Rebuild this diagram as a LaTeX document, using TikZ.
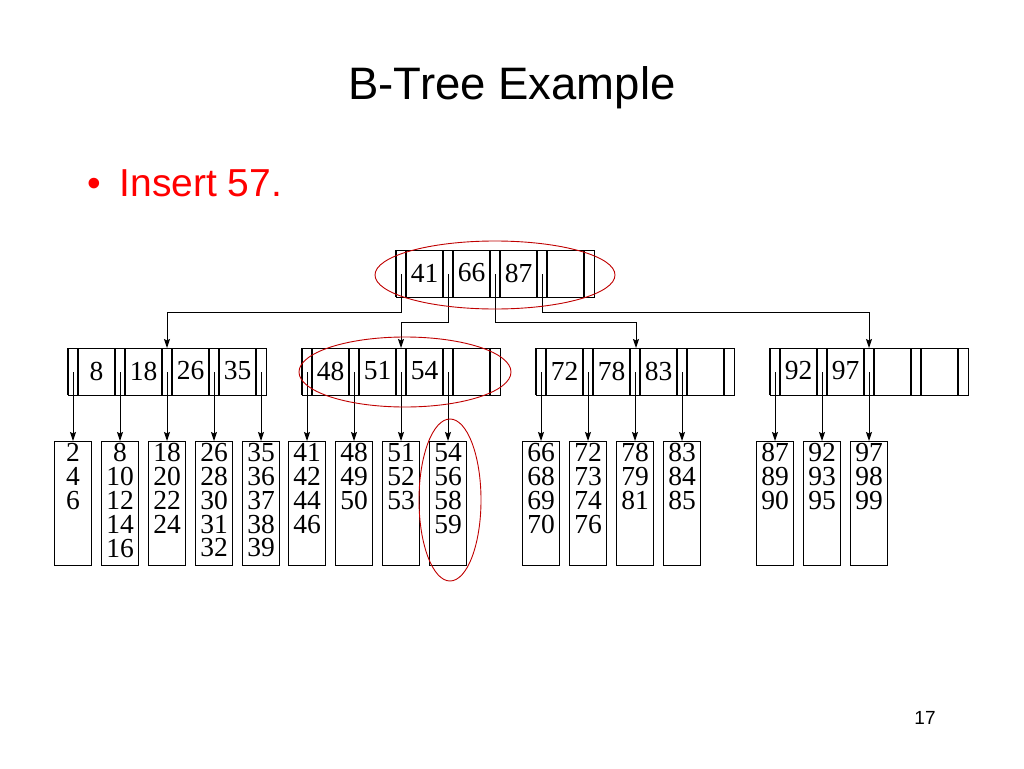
\documentclass[tikz,border=0pt]{standalone}
\usepackage{fontspec}
\usetikzlibrary{arrows.meta}
\setmainfont{Liberation Serif}
\newfontfamily\sans{Liberation Sans}
\begin{document}
\begin{tikzpicture}[x=1pt,y=-1pt,line width=1.1pt,
  box/.style={draw,minimum width=198pt,minimum height=47pt,inner sep=0,anchor=north west},
  leaf/.style={draw,minimum width=37pt,minimum height=124pt,inner sep=0,anchor=north},
  leaftxt/.style={anchor=north,inner sep=0,align=center,font=\fontsize{27.5}{23.8}\selectfont},
  key/.style={font=\fontsize{27.5}{27.5}\selectfont,inner sep=0},
  arr/.style={->,>={Stealth[length=9pt,width=6pt,inset=1.5pt]},line width=1pt},
  circ/.style={draw=red!75!black,line width=0.9pt}]
\useasboundingbox (0,0) rectangle (1024,768);
\node[font=\sans\fontsize{45.5}{45.5}\selectfont] (title) at (512,88) {B-Tree Example};
\node[font=\sans\fontsize{39}{39}\selectfont,text=red,anchor=west] (ins) at (84,183) {•\hspace{18pt}Insert 57.};
\node[font=\sans\fontsize{19}{19}\selectfont] (pg) at (925,718) {17};
\newcommand\bnode[5]{%
  \node[box] (#1) at (#2,#3) {};
  \foreach \k [count=\i from 0] in {#4} {
    \pgfmathsetmacro\px{#2+\i*47}
    \draw (\px,#3) -- (\px,#3+47);
    \draw (\px+10,#3) -- (\px+10,#3+47);
    \node[key] (#1k\i) at (\px+28.5,#3+23) {\k};
  }
  \draw (#2+188,#3) -- (#2+188,#3+47);
  \foreach \i in {1,...,#5} {
    \pgfmathsetmacro\px{#2+5+(\i-1)*47}
    \coordinate (#1p\i) at (\px,#3+24);
  }
}
\bnode{root}{396}{250}{41,66,87,{}}{4}
\bnode{na}{68}{348}{8,18,26,35}{5}
\bnode{nb}{302}{348}{48,51,54,{}}{4}
\bnode{nc}{536}{348}{72,78,83,{}}{4}
\bnode{nd}{770}{348}{92,97,{},{}}{3}
\newcommand\bleaf[3]{\node[leaf] (#1) at (#2,441) {};
  \node[leaftxt] (#1t) at (#2,443) {#3};}
\bleaf{l1}{73}{2\\4\\6}
\bleaf{l2}{120}{8\\10\\12\\14\\16}
\bleaf{l3}{167}{18\\20\\22\\24}
\bleaf{l4}{214}{26\\28\\30\\31\\32}
\bleaf{l5}{261}{35\\36\\37\\38\\39}
\bleaf{l6}{307}{41\\42\\44\\46}
\bleaf{l7}{354}{48\\49\\50}
\bleaf{l8}{401}{51\\52\\53}
\bleaf{l9}{448}{54\\56\\58\\59}
\bleaf{l10}{541}{66\\68\\69\\70}
\bleaf{l11}{588}{72\\73\\74\\76}
\bleaf{l12}{635}{78\\79\\81}
\bleaf{l13}{682}{83\\84\\85}
\bleaf{l14}{775}{87\\89\\90}
\bleaf{l15}{822}{92\\93\\95}
\bleaf{l16}{869}{97\\98\\99}
\foreach \n/\p/\l in {na/1/l1,na/2/l2,na/3/l3,na/4/l4,na/5/l5,
  nb/1/l6,nb/2/l7,nb/3/l8,nb/4/l9,nc/1/l10,nc/2/l11,nc/3/l12,nc/4/l13,
  nd/1/l14,nd/2/l15,nd/3/l16}
  \draw[arr] (\n p\p) -- (\n p\p |- \l.north);
\draw[arr] (rootp1) |- (167,312) -- (167,348);
\draw[arr] (rootp2) |- (401,322) -- (401,348);
\draw[arr] (rootp3) |- (636,322) -- (636,348);
\draw[arr] (rootp4) |- (869,312) -- (869,348);
\draw[circ] (495,275) ellipse [x radius=120,y radius=34];
\draw[circ] (405,372) ellipse [x radius=106,y radius=35];
\draw[circ] (450,500) ellipse [x radius=31,y radius=81];
\end{tikzpicture}
\end{document}
